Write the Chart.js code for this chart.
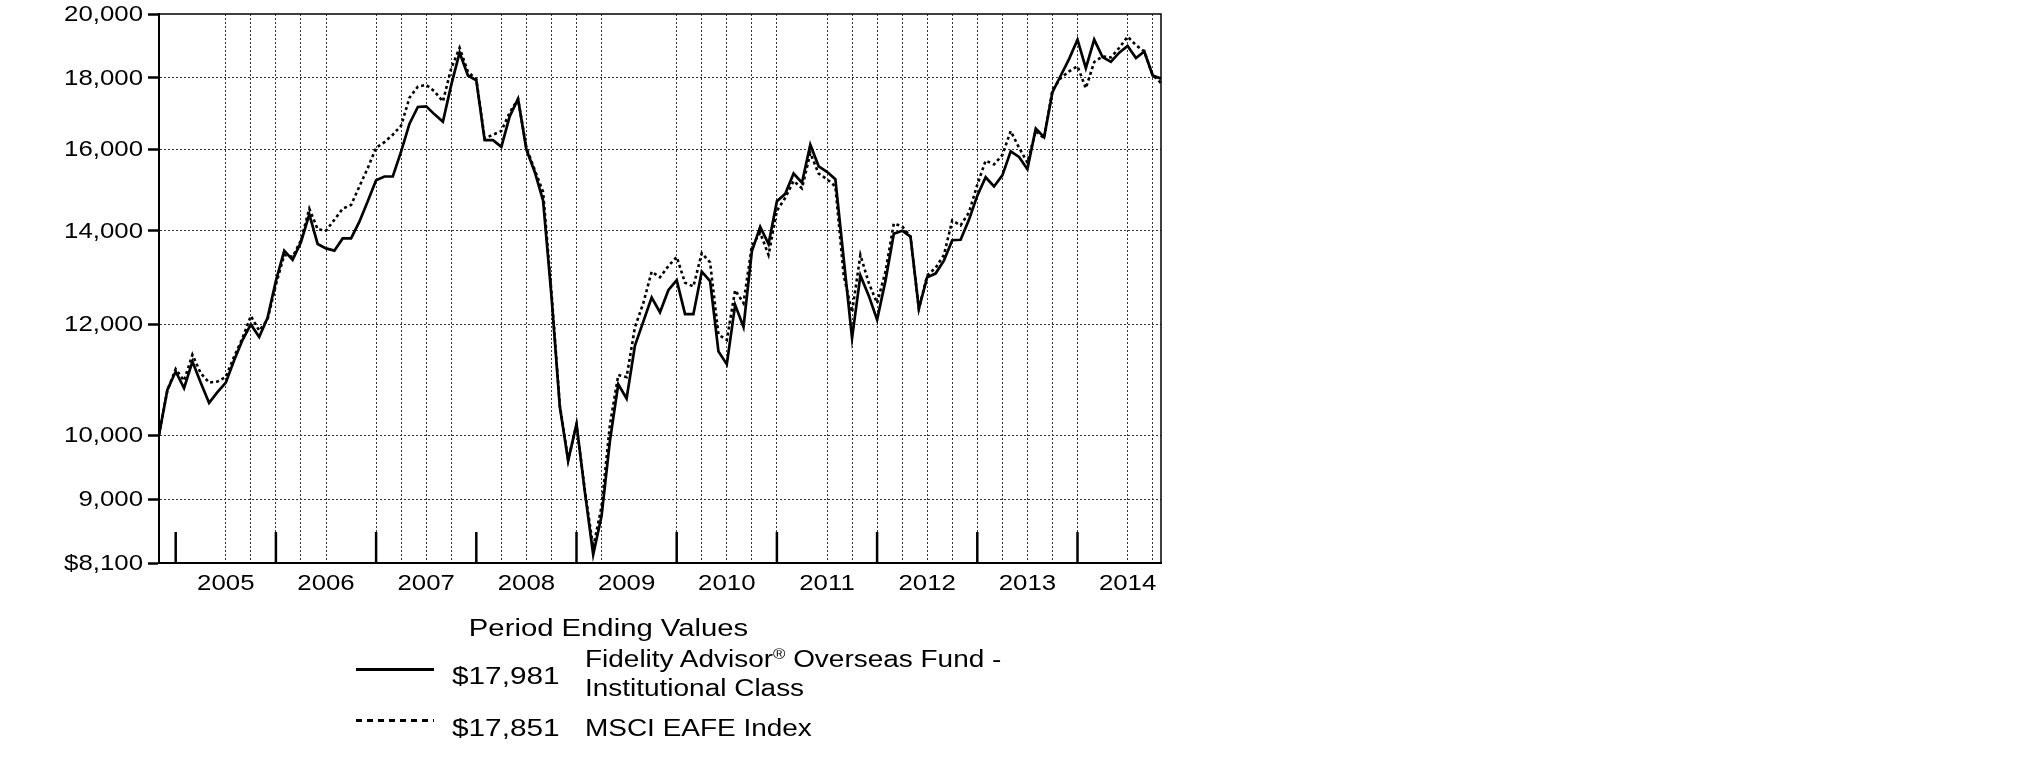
<!DOCTYPE html>
<html>
<head>
<meta charset="utf-8">
<script src="https://cdn.jsdelivr.net/npm/chart.js@4.4.1/dist/chart.umd.min.js"></script>
<style>
  html, body { margin: 0; padding: 0; background: #fff; }
  #wrap { position: relative; width: 2025px; height: 773px; overflow: hidden; background: #fff; }
  #c { position: absolute; left: 0; top: 0; }
  .t { position: absolute; font-family: "Liberation Sans", Arial, sans-serif; color: #000;
       white-space: nowrap; line-height: 1; font-size: 23.3px; transform-origin: 0 0; transform: scaleX(1.2); }
  .sample { position: absolute; height: 3px; }
</style>
</head>
<body>
<div id="wrap">
  <canvas id="c" width="2025" height="773"></canvas>
  <div class="t" style="left:0; width:1217px; text-align:center; top:616px; font-size:24.4px; transform-origin:608.5px 0;">Period Ending Values</div>
  <div class="sample" style="left:356px; top:668px; width:78px; background:#000;"></div>
  <div class="t" style="left:452px; top:664px; font-size:24.8px;">$17,981</div>
  <div class="t" style="left:585px; top:648px;">Fidelity Advisor<sup style="font-size:60%; vertical-align:0.55em; line-height:0;">®</sup> Overseas Fund -</div>
  <div class="t" style="left:585px; top:677px;">Institutional Class</div>
  <div class="sample" style="left:356px; top:719px; width:78px; background:repeating-linear-gradient(to right,#000 0 6px,transparent 6px 11px);"></div>
  <div class="t" style="left:452px; top:716px; font-size:24.8px;">$17,851</div>
  <div class="t" style="left:585px; top:717px;">MSCI EAFE Index</div>
</div>
<script>
// ---- categories: month-end dates, Oct 2004 .. Oct 2014 ----
const monthNames = ['Jan','Feb','Mar','Apr','May','Jun','Jul','Aug','Sep','Oct','Nov','Dec'];
const months = [];
for (let y = 2004; y <= 2014; y++) {
  for (let mi = 0; mi < 12; mi++) {
    if (y === 2004 && mi < 9) continue;
    if (y === 2014 && mi > 9) continue;
    months.push(monthNames[mi] + ' ' + y);
  }
}

// ---- series values (hypothetical $10,000 investment) ----
const fundValues = [
  10000, 10771, 11102, 10802, 11287, 10900, 10542, 10730, 10900, 11308, 11693, 11996,
  11750, 12128, 12888, 13546, 13342, 13737, 14382, 13696, 13596, 13546, 13822, 13822,
  14208, 14694, 15212, 15305, 15305, 15951, 16696, 17162, 17180, 16954, 16747, 17797,
  18768, 18074, 17932, 16248, 16248, 16071, 16900, 17389, 16000, 15420, 14710, 12576,
  10480, 9585, 10180, 9105, 8213, 8750, 9900, 10870, 10619, 11586, 12053, 12540,
  12240, 12693, 12903, 12201, 12201, 13086, 12886, 11476, 11235, 12389, 11946, 13529,
  14090, 13696, 14694, 14874, 15380, 15148, 16127, 15565, 15424, 15237, 13367, 11729,
  13005, 12579, 12091, 12888, 13930, 14000, 13863, 12311, 12966, 13045, 13326, 13780,
  13790, 14251, 14830, 15287, 15056, 15333, 15951, 15807, 15490, 16563, 16327, 17585,
  18074, 18576, 19174, 18292, 19174, 18633, 18484, 18768, 18976, 18599, 18803, 18074,
  17981
];
const indexValues = [
  10000, 10760, 11149, 10935, 11413, 11070, 10902, 10920, 11004, 11378, 11729, 12166,
  11874, 12091, 12810, 13450, 13408, 13780, 14515, 14034, 14000, 14251, 14515, 14604,
  15056, 15518, 16048, 16196, 16395, 16644, 17426, 17746, 17800, 17606, 17316, 18292,
  18918, 18184, 17965, 16298, 16395, 16494, 17004, 17389, 16048, 15471, 14919, 12659,
  10500, 9600, 10170, 9130, 8312, 8887, 10170, 11037, 11000, 11942, 12425, 13086,
  12966, 13206, 13408, 12848, 12770, 13490, 13286, 11798, 11693, 12693, 12425, 13654,
  13950, 13450, 14468, 14777, 15194, 15010, 15904, 15380, 15237, 15056, 13005, 12242,
  13450, 12848, 12425, 13086, 14165, 14100, 13863, 12311, 13005, 13166, 13450, 14238,
  14121, 14424, 15102, 15711, 15615, 15857, 16494, 16048, 15663, 16494, 16298, 17650,
  18000, 18200, 18352, 17700, 18480, 18650, 18620, 18918, 19267, 19000, 18805, 18090,
  17851
];

// ---- tick labels ----
const yTickValues = [8100, 9000, 10000, 12000, 14000, 16000, 18000, 20000];
const yTickLabels = ['$8,100', '9,000', '10,000', '12,000', '14,000', '16,000', '18,000', '20,000'];
const yearLabels = ['2005', '2006', '2007', '2008', '2009', '2010', '2011', '2012', '2013', '2014'];
const yearLabelMonths = ['Jun 2005', 'Jun 2006', 'Jun 2007', 'Jun 2008', 'Jun 2009', 'Jun 2010', 'Jun 2011', 'Jun 2012', 'Jun 2013', 'Jun 2014'];
const yearTickMonths = ['Dec 2004', 'Dec 2005', 'Dec 2006', 'Dec 2007', 'Dec 2008', 'Dec 2009', 'Dec 2010', 'Dec 2011', 'Dec 2012', 'Dec 2013'];
const gridMonths = ['Jun 2005', 'Sep 2005', 'Dec 2005', 'Mar 2006', 'Jun 2006', 'Dec 2006', 'Mar 2007', 'Jun 2007', 'Sep 2007',
  'Mar 2008', 'Jun 2008', 'Sep 2008', 'Dec 2008', 'Mar 2009', 'Dec 2009', 'Mar 2010', 'Jun 2010', 'Sep 2010',
  'Dec 2010', 'Jun 2011', 'Sep 2011', 'Dec 2011', 'Mar 2012', 'Jun 2012', 'Sep 2012', 'Dec 2012', 'Mar 2013', 'Jun 2013',
  'Sep 2013', 'Dec 2013', 'Jun 2014', 'Sep 2014'];

const gridIdx = new Set(gridMonths.map(m => months.indexOf(m)));

const FONT = '"Liberation Sans", Arial, Helvetica, sans-serif';
const TEXT_STRETCH = 1.2;

// frame, in-plot year tick marks, and horizontally stretched axis labels
const framePlugin = {
  id: 'frame',
  afterDraw(chart) {
    const { ctx, chartArea: a } = chart;
    const x = chart.scales.x, y = chart.scales.y;
    ctx.save();
    ctx.strokeStyle = '#000';
    ctx.lineWidth = 1.5;
    ctx.beginPath();
    ctx.moveTo(a.left, a.top);
    ctx.lineTo(a.right, a.top);
    ctx.lineTo(a.right, a.bottom);
    ctx.stroke();
    ctx.lineWidth = 2.5;
    yearTickMonths.forEach(m => {
      const px = x.getPixelForValue(months.indexOf(m));
      ctx.beginPath();
      ctx.moveTo(px, a.bottom);
      ctx.lineTo(px, a.bottom - 31);
      ctx.stroke();
    });
    ctx.fillStyle = '#000';
    // y labels
    ctx.font = '21.5px ' + FONT;
    ctx.textAlign = 'right';
    ctx.textBaseline = 'middle';
    yTickValues.forEach((v, i) => {
      const py = y.getPixelForValue(v);
      ctx.save();
      ctx.translate(a.left - 16, py + 1);
      ctx.scale(TEXT_STRETCH, 1);
      ctx.fillText(yTickLabels[i], 0, 0);
      ctx.restore();
    });
    // year labels
    ctx.font = '21.5px ' + FONT;
    ctx.textAlign = 'center';
    ctx.textBaseline = 'alphabetic';
    yearLabelMonths.forEach((m, i) => {
      const px = x.getPixelForValue(months.indexOf(m));
      ctx.save();
      ctx.translate(px, a.bottom + 27);
      ctx.scale(TEXT_STRETCH, 1);
      ctx.fillText(yearLabels[i], 0, 0);
      ctx.restore();
    });
    ctx.restore();
  }
};

new Chart(document.getElementById('c'), {
  type: 'line',
  data: {
    labels: months,
    datasets: [
      { label: 'Fidelity Advisor® Overseas Fund - Institutional Class', data: fundValues,
        borderColor: '#000', borderWidth: 2.7, pointRadius: 0, tension: 0, fill: false },
      { label: 'MSCI EAFE Index', data: indexValues,
        borderColor: '#000', borderWidth: 2.6, borderDash: [3, 3], pointRadius: 0, tension: 0, fill: false }
    ]
  },
  options: {
    responsive: false,
    animation: false,
    devicePixelRatio: 1,
    layout: { padding: { left: 0, right: 864, top: 14, bottom: 170 } },
    plugins: { legend: { display: false }, tooltip: { enabled: false } },
    scales: {
      x: {
        type: 'category',
        offset: false,
        grid: {
          display: true, drawTicks: false, lineWidth: 1,
          color: c => gridIdx.has(c.index) ? '#333' : 'rgba(0,0,0,0)'
        },
        border: { display: true, color: '#000', width: 2, dash: [2, 2] },
        ticks: { display: false, autoSkip: false },
        afterFit: s => { s.height = 40; }
      },
      y: {
        type: 'logarithmic',
        min: 8100, max: 20000,
        afterBuildTicks: s => { s.ticks = yTickValues.map(v => ({ value: v })); },
        grid: {
          lineWidth: 1, drawTicks: true, tickLength: 11, tickWidth: 2.5, tickColor: '#000',
          color: c => (c.tick && (c.tick.value === 20000 || c.tick.value === 8100)) ? 'rgba(0,0,0,0)' : '#333'
        },
        border: { display: true, color: '#000', width: 2, dash: [2, 2] },
        ticks: { display: false },
        afterFit: s => { s.width = 159; }
      }
    }
  },
  plugins: [framePlugin]
});
</script>
</body>
</html>
